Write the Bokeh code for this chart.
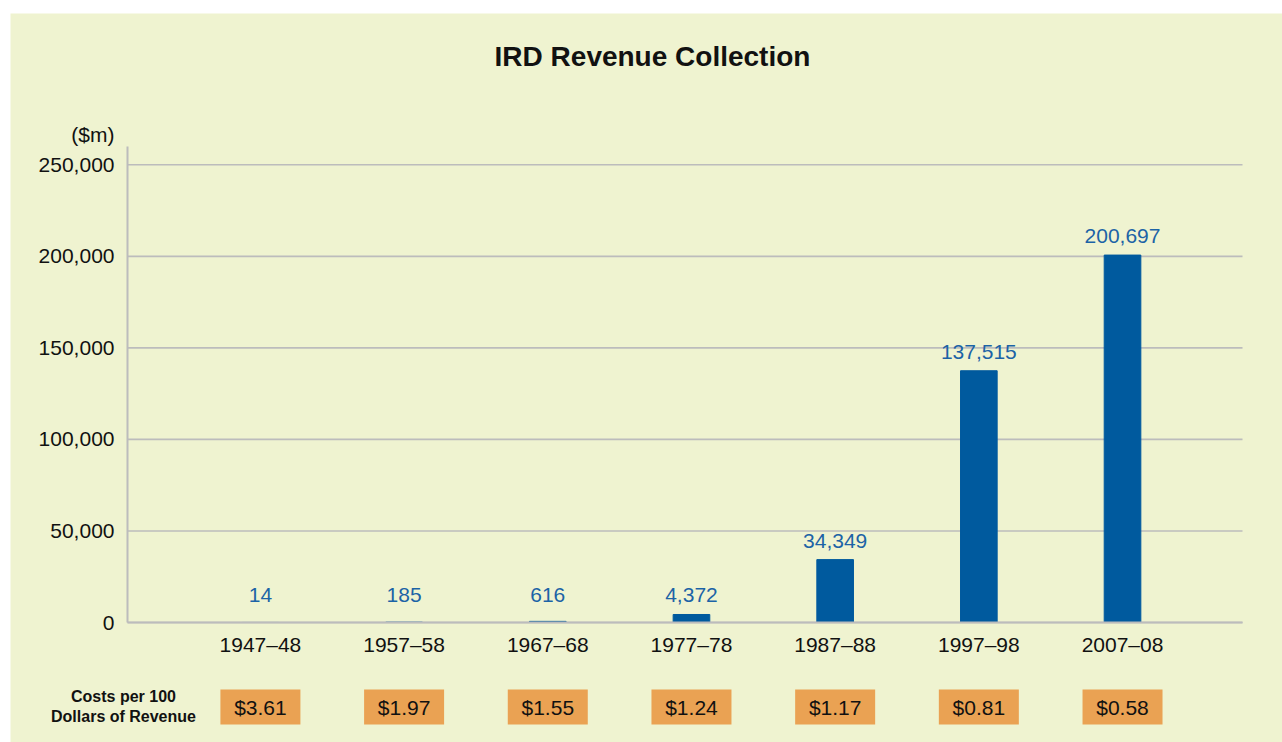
import numpy as np
from bokeh.plotting import figure
from bokeh.models import Range1d, FixedTicker, NumeralTickFormatter
from bokeh.embed import file_html
from bokeh.resources import INLINE
from bokeh.core.properties import value

# ---------------- data ----------------
periods = ["1947\u201348", "1957\u201358", "1967\u201368", "1977\u201378",
           "1987\u201388", "1997\u201398", "2007\u201308"]
revenue = [14, 185, 616, 4372, 34349, 137515, 200697]
revenue_labels = ["14", "185", "616", "4,372", "34,349", "137,515", "200,697"]
costs = ["$3.61", "$1.97", "$1.55", "$1.24", "$1.17", "$0.81", "$0.58"]
y_ticks = [0, 50000, 100000, 150000, 200000, 250000]
title_text = "IRD Revenue Collection"
unit_text = "($m)"
cost_caption = ["Costs per 100", "Dollars of Revenue"]

# ---------------- style / layout ----------------
FONT = value("Liberation Sans")
BG = "#eff3d0"
BAR = "#005a9e"
LBL = "#1c63a6"
ORANGE = "#eaa253"
GRID = "#bcbcbc"
TXT = "#111111"

W, H = 1282, 742
PANEL_L, PANEL_T = 10, 13            # yellow panel origin (pixels)
AX_L, AX_R, AX_T, AX_B = 127, 1242, 146, 622  # plotting area (pixels)
X0, X1 = -0.925, 6.835
Y0, Y1 = 0, 260000
ppu = (AX_R - AX_L) / (X1 - X0)
ppy = (AX_B - AX_T) / (Y1 - Y0)


def dx(px):
    return X0 + (px - AX_L) / ppu


def dy(py):
    return (AX_B - py) / ppy


xs = list(range(len(periods)))

p = figure(width=W, height=H, output_backend="svg", toolbar_location=None,
           x_range=Range1d(dx(PANEL_L), dx(W)), y_range=Range1d(dy(H), dy(PANEL_T)),
           min_border_left=PANEL_L, min_border_top=PANEL_T,
           min_border_right=0, min_border_bottom=0)
p.background_fill_color = BG
p.border_fill_color = "white"
p.outline_line_color = None
p.grid.visible = False

# grid lines across the plotting area only
p.segment(x0=X0, x1=X1, y0=y_ticks, y1=y_ticks, line_color=GRID, line_width=1.6)

# bars
p.vbar(x=xs, top=revenue, width=0.255, fill_color=BAR, line_color=BAR, line_width=1)

# value labels
label_y = np.maximum(np.array(revenue, dtype=float), 4372)
p.text(x=xs, y=label_y, text=revenue_labels, text_align="center",
       text_baseline="alphabetic", y_offset=-19, text_font=FONT,
       text_font_size="21px", text_color=LBL)

# axes
p.yaxis.fixed_location = X0
p.yaxis.bounds = (Y0, Y1)
p.yaxis.ticker = FixedTicker(ticks=y_ticks)
p.yaxis.formatter = NumeralTickFormatter(format="0,0")
p.yaxis.axis_line_color = GRID
p.yaxis.axis_line_width = 2
p.yaxis.major_tick_line_color = None
p.yaxis.major_tick_out = 0
p.yaxis.major_tick_in = 0
p.yaxis.minor_tick_line_color = None
p.yaxis.major_label_standoff = 13
p.yaxis.major_label_text_font = "Liberation Sans"
p.yaxis.major_label_text_font_size = "21px"
p.yaxis.major_label_text_color = TXT

p.xaxis.fixed_location = 0
p.xaxis.bounds = (X0, X1)
p.xaxis.ticker = FixedTicker(ticks=xs)
p.xaxis.major_label_overrides = {i: s for i, s in enumerate(periods)}
p.xaxis.axis_line_color = GRID
p.xaxis.axis_line_width = 2
p.xaxis.major_tick_line_color = None
p.xaxis.major_tick_out = 0
p.xaxis.major_tick_in = 0
p.xaxis.minor_tick_line_color = None
p.xaxis.major_label_standoff = 10
p.xaxis.major_label_text_font = "Liberation Sans"
p.xaxis.major_label_text_font_size = "21px"
p.xaxis.major_label_text_color = TXT

# title and unit
p.text(x=[dx(652)], y=[dy(56)], text=[title_text], text_align="center",
       text_baseline="alphabetic", text_font=FONT, text_font_size="28px",
       text_font_style="bold", text_color=TXT)
p.text(x=[dx(114)], y=[dy(134)], text=[unit_text], text_align="right",
       text_baseline="alphabetic", text_font=FONT, text_font_size="21px",
       text_color=TXT)

# cost row
box_y = dy(706.5)
p.rect(x=xs, y=box_y, width=80 / ppu, height=35 / ppy, fill_color=ORANGE, line_color=None)
p.text(x=xs, y=box_y, text=costs, text_align="center", text_baseline="middle",
       text_font=FONT, text_font_size="21px", text_color=TXT)
p.text(x=[dx(123), dx(123)], y=[dy(696), dy(716)], text=cost_caption,
       text_align="center", text_baseline="alphabetic", text_font=FONT,
       text_font_size="16px", text_font_style="bold", text_color=TXT)

open("out.html", "w").write(file_html(p, INLINE))
